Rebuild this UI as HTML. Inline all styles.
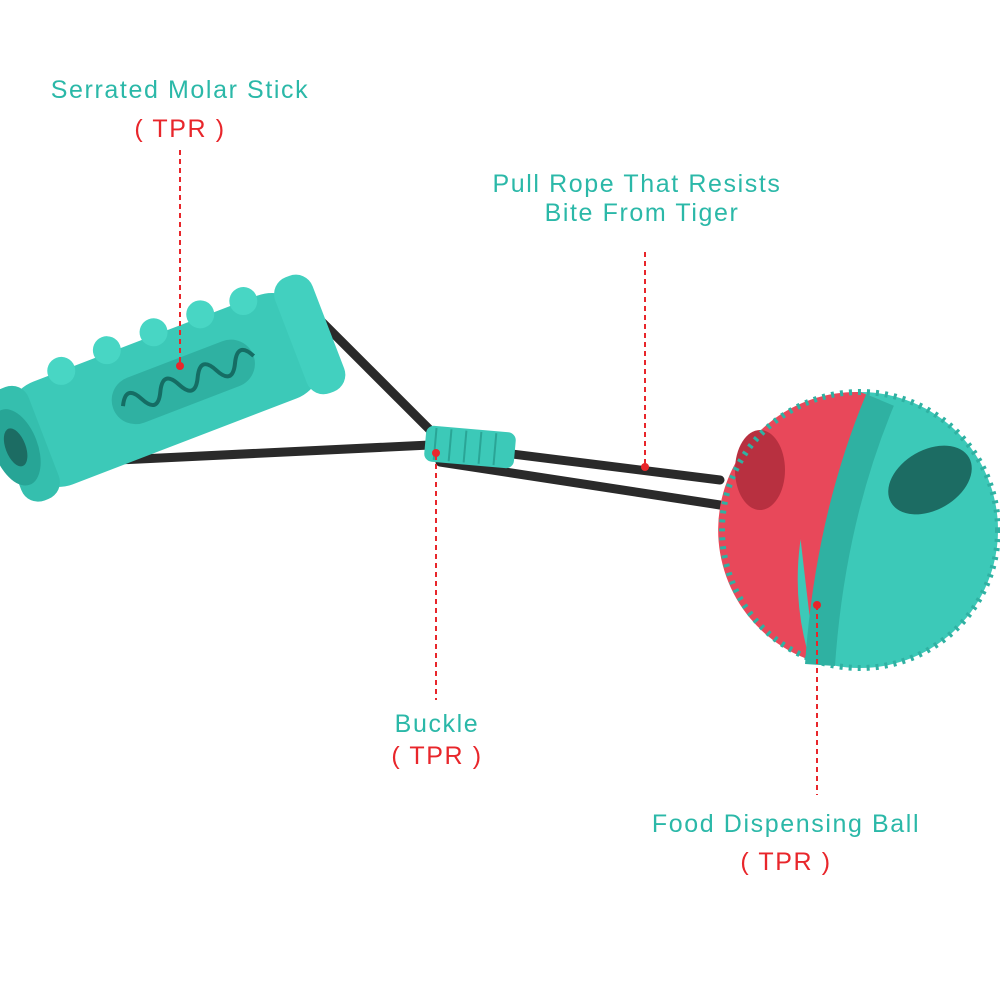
<!DOCTYPE html>
<html><head><style>
html,body{margin:0;padding:0;background:#fff;width:1000px;height:1000px;overflow:hidden}
svg{display:block}
text{font-family:"Liberation Sans",sans-serif}
</style></head><body>
<svg width="1000" height="1000" viewBox="0 0 1000 1000">
<rect width="1000" height="1000" fill="#fff"/>
<!-- ropes -->
<g stroke="#2a2a2a" stroke-width="9" fill="none" stroke-linecap="round">
<path d="M15 465 L430 445"/>
<path d="M320 320 L440 440"/>
<path d="M440 445 L720 480"/>
<path d="M440 462 L720 505"/>
</g>
<!-- stick -->
<g transform="translate(165,390) rotate(-21)">
<rect x="-160" y="-55" width="320" height="110" rx="40" fill="#3cc9b8"/>
<rect x="-170" y="-60" width="40" height="120" rx="18" fill="#35bfae"/>
<rect x="135" y="-62" width="40" height="124" rx="18" fill="#42d0bf"/>
<ellipse cx="-160" cy="0" rx="22" ry="40" fill="#27a596"/>
<ellipse cx="-160" cy="0" rx="10" ry="20" fill="#1c6c63"/>
<rect x="-55" y="-25" width="150" height="48" rx="24" fill="#2fb1a2"/>
<path d="M-45 0 q10 -20 20 0 t20 0 t20 0 t20 0 t20 0 t20 0 t20 0" stroke="#156d64" stroke-width="4" fill="none"/>
<g fill="#48d6c4"><circle cx="-90" cy="-55" r="14"/><circle cx="-40" cy="-58" r="14"/><circle cx="10" cy="-58" r="14"/><circle cx="60" cy="-58" r="14"/><circle cx="105" cy="-55" r="14"/></g>
</g>
<!-- buckle -->
<g transform="translate(470,447) rotate(5)">
<rect x="-45" y="-18" width="90" height="36" rx="8" fill="#3cc9b8"/>
<g stroke="#2aa596" stroke-width="2"><line x1="-35" y1="-16" x2="-35" y2="16"/><line x1="-20" y1="-16" x2="-20" y2="16"/><line x1="-5" y1="-16" x2="-5" y2="16"/><line x1="10" y1="-16" x2="10" y2="16"/><line x1="25" y1="-16" x2="25" y2="16"/></g>
</g>
<!-- ball -->
<circle cx="860" cy="530" r="138" fill="#3cc9b8"/>
<path d="M860 392 A138 138 0 0 0 810 660 Q770 530 860 392Z" fill="#e8485a"/>
<path d="M860 392 Q820 400 790 440 Q800 540 815 660 Q860 530 880 400 Z" fill="#e8485a"/>
<path d="M880 400 Q830 520 820 665" stroke="#2fb1a2" stroke-width="30" fill="none"/>
<ellipse cx="930" cy="480" rx="45" ry="30" fill="#1c6c63" transform="rotate(-30 930 480)"/>
<ellipse cx="760" cy="470" rx="25" ry="40" fill="#b83040"/>
<circle cx="860" cy="530" r="138" fill="none" stroke="#2fb1a2" stroke-width="6" stroke-dasharray="3 6"/>
<!-- labels -->
<g fill="#2bb8a8" font-size="25" letter-spacing="1.6" text-anchor="middle">
<text x="180" y="98">Serrated Molar Stick</text>
<text x="637" y="192">Pull Rope That Resists</text>
<text x="642" y="221">Bite From Tiger</text>
<text x="437" y="732">Buckle</text>
<text x="786" y="832">Food Dispensing Ball</text>
</g>
<g fill="#e8262b" font-size="25" letter-spacing="1.6" text-anchor="middle">
<text x="180" y="137">( TPR )</text>
<text x="437" y="764">( TPR )</text>
<text x="786" y="870">( TPR )</text>
</g>
<g stroke="#e8262b" stroke-width="2" stroke-dasharray="5 4">
<line x1="180" y1="150" x2="180" y2="365"/>
<line x1="645" y1="252" x2="645" y2="467"/>
<line x1="436" y1="455" x2="436" y2="700"/>
<line x1="817" y1="605" x2="817" y2="795"/>
</g>
<g fill="#e8262b"><circle cx="180" cy="366" r="4"/><circle cx="645" cy="467" r="4"/><circle cx="436" cy="453" r="4"/><circle cx="817" cy="605" r="4"/></g>
</svg>
</body></html>
